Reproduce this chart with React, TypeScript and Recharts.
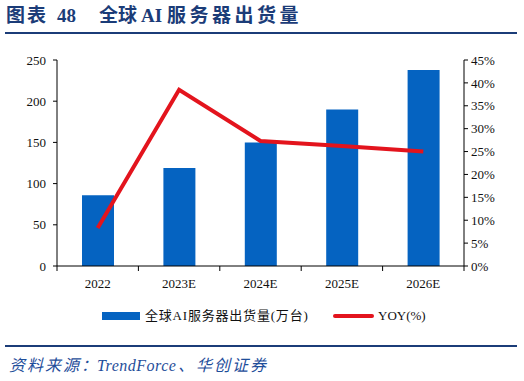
import React from 'react';
import { ComposedChart, Bar, Line, XAxis, YAxis } from 'recharts';

const years = ['2022', '2023E', '2024E', '2025E', '2026E'];
const shipments = [86, 119, 150, 190, 238];
const yoy = [8.3, 38.5, 27.3, 26.2, 25.0];
const leftTicks = [0, 50, 100, 150, 200, 250];
const rightTicks = [0, 5, 10, 15, 20, 25, 30, 35, 40, 45];

const data = years.map((year, i) => ({ year, shipments: shipments[i], yoy: yoy[i] }));

const W = 524;
const H = 381;
const margin = { top: 60, right: 15, bottom: 85, left: 17 };
const leftAxisW = 40;
const rightAxisW = 45;
const plotW = W - margin.left - margin.right - leftAxisW - rightAxisW;
const band = plotW / years.length;

const BLUE = '#0563C1';
const RED = '#E3141D';
const NAVY = '#1B3C78';
const serif = '"Times New Roman", "Liberation Serif", "Noto Sans CJK SC", serif';

const XTick: React.FC<any> = ({ x, y, payload, index }) => (
    <g>
        <line x1={x - band / 2} x2={x - band / 2} y1={y} y2={y + 5} stroke="#000" />
        {index === years.length - 1 && (
            <line x1={x + band / 2} x2={x + band / 2} y1={y} y2={y + 5} stroke="#000" />
        )}
        <text x={x} y={y + 22} textAnchor="middle" fontSize={13} fontFamily={serif} fill="#111">
            {payload.value}
        </text>
    </g>
);

// a piece of text placed at a fixed left position
const Piece: React.FC<{ left: number; top: number; style?: React.CSSProperties; children: React.ReactNode }> = ({
    left,
    top,
    style,
    children,
}) => (
    <div style={{ position: 'absolute', left, top, whiteSpace: 'nowrap', ...style }}>{children}</div>
);

export default function App() {
    const titleStyle: React.CSSProperties = { fontSize: 19, fontWeight: 'bold', color: NAVY, lineHeight: '24px' };
    const srcStyle: React.CSSProperties = { fontSize: 16, fontStyle: 'italic', color: '#1F4E9A', lineHeight: '20px' };
    return (
        <div style={{ position: 'absolute', left: 0, top: 0, width: W, height: H, background: '#fff', fontFamily: serif }}>
            <Piece left={6} top={4} style={{ ...titleStyle, letterSpacing: 2 }}>图表</Piece>
            <Piece left={57} top={4} style={titleStyle}>48</Piece>
            <Piece left={99} top={4} style={titleStyle}>全球</Piece>
            <Piece left={141} top={4} style={titleStyle}>AI</Piece>
            <Piece left={167} top={4} style={{ ...titleStyle, letterSpacing: 3.5 }}>服务器出货量</Piece>
            <div style={{ position: 'absolute', left: 5, top: 32, width: 512, height: 2, background: NAVY }} />

            <div style={{ position: 'absolute', left: 0, top: 0 }}>
                <ComposedChart width={W} height={H} data={data} margin={margin}>
                    <XAxis
                        dataKey="year"
                        height={30}
                        tickLine={false}
                        tickSize={0}
                        tickMargin={0}
                        axisLine={{ stroke: '#000' }}
                        tick={<XTick />}
                        interval={0}
                    />
                    <YAxis
                        yAxisId="left"
                        width={leftAxisW}
                        domain={[0, 250]}
                        ticks={leftTicks}
                        tickSize={4}
                        tickMargin={7}
                        axisLine={{ stroke: '#000' }}
                        tickLine={{ stroke: '#000' }}
                        tick={{ fontSize: 13, fill: '#111', fontFamily: serif }}
                    />
                    <YAxis
                        yAxisId="right"
                        orientation="right"
                        width={rightAxisW}
                        domain={[0, 45]}
                        ticks={rightTicks}
                        tickFormatter={(v: number) => `${v}%`}
                        tickSize={4}
                        tickMargin={3}
                        axisLine={{ stroke: '#000' }}
                        tickLine={{ stroke: '#000' }}
                        tick={{ fontSize: 13, fill: '#111', fontFamily: serif }}
                    />
                    <Bar yAxisId="left" dataKey="shipments" fill={BLUE} barSize={32} isAnimationActive={false} />
                    <Line
                        yAxisId="right"
                        dataKey="yoy"
                        stroke={RED}
                        strokeWidth={4}
                        dot={false}
                        type="linear"
                        isAnimationActive={false}
                    />
                </ComposedChart>
            </div>

            <div style={{ position: 'absolute', left: 102, top: 312, width: 38, height: 8, background: BLUE }} />
            <Piece left={145} top={307} style={{ fontSize: 13, lineHeight: '18px', color: '#111', letterSpacing: 0.8 }}>
                全球AI服务器出货量(万台)
            </Piece>
            <div style={{ position: 'absolute', left: 333, top: 314, width: 41, height: 4, background: RED, borderRadius: 2 }} />
            <Piece left={378} top={307} style={{ fontSize: 13, lineHeight: '18px', color: '#111' }}>
                YOY(%)
            </Piece>

            <div style={{ position: 'absolute', left: 5, top: 345, width: 512, height: 2, background: NAVY }} />
            <Piece left={9} top={356} style={{ ...srcStyle, letterSpacing: 2 }}>资料来源：</Piece>
            <Piece left={97} top={356} style={{ ...srcStyle, letterSpacing: 0.5 }}>TrendForce</Piece>
            <Piece left={178} top={356} style={{ ...srcStyle, letterSpacing: 2 }}>、华创证券</Piece>
        </div>
    );
}
